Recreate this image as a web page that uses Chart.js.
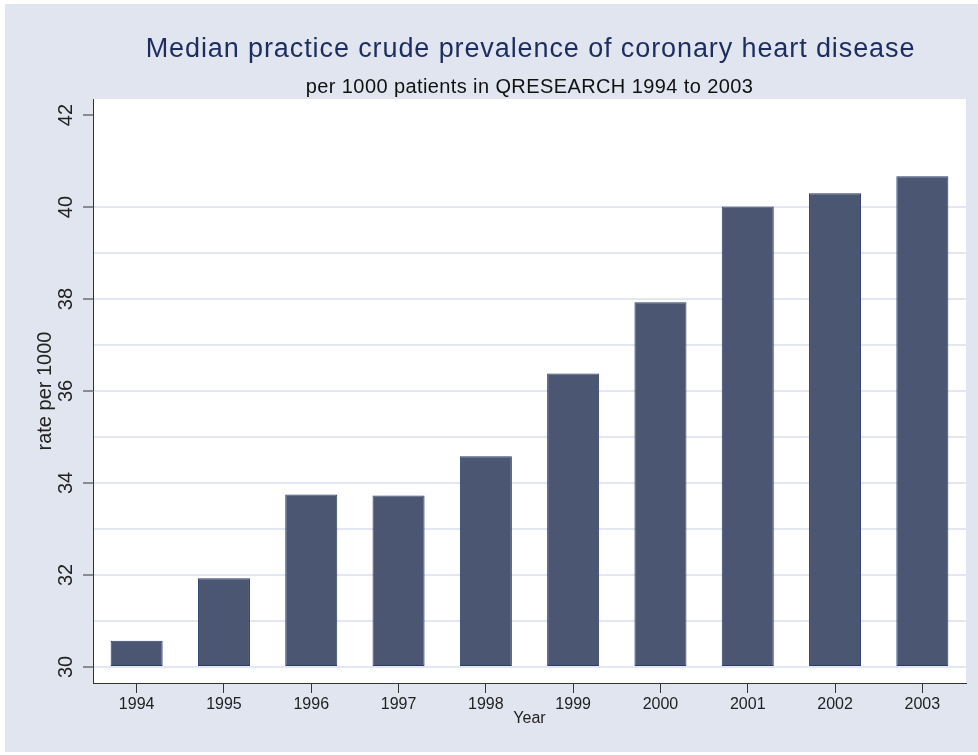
<!DOCTYPE html>
<html>
<head>
<meta charset="utf-8">
<script src="https://cdn.jsdelivr.net/npm/chart.js@4"></script>
<style>
  html, body { margin: 0; padding: 0; background: #fff; }
</style>
</head>
<body>
<canvas id="chart" width="978" height="755"></canvas>
<script>
const years = ["1994", "1995", "1996", "1997", "1998", "1999", "2000", "2001", "2002", "2003"];
const rates = [30.57, 31.93, 33.75, 33.73, 34.58, 36.38, 37.93, 40.01, 40.30, 40.67];
const yGridValues = [30, 31, 32, 33, 34, 35, 36, 37, 38, 39, 40, 41, 42];
const yLabelValues = [30, 32, 34, 36, 38, 40, 42];
const titleText = "Median practice crude prevalence of coronary heart disease";
const subtitleText = "per 1000 patients in QRESEARCH 1994 to 2003";
const yTitle = "rate per 1000";
const xTitle = "Year";

const BG = "#e0e5ef";
const GRID = "#e2e7f1";
const AXIS = "#333";
const BAR = "#4b5673";
const BAR_EDGE = "#2a3b6c";
const FONT = "'Liberation Sans', Arial, sans-serif";
const NONE = "rgba(0,0,0,0)";

// grey page, white plot region
const backdrop = {
  id: "backdrop",
  beforeDraw(chart) {
    const { ctx, chartArea: a, width, height } = chart;
    ctx.save();
    ctx.fillStyle = "#fff";
    ctx.fillRect(0, 0, width, height);
    ctx.fillStyle = BG;
    ctx.fillRect(5, 4, width - 5, height - 7);
    ctx.fillStyle = "#fff";
    ctx.fillRect(a.left, a.top, a.right - a.left, a.bottom - a.top);
    ctx.restore();
  }
};

// title + subtitle centred over the plot region
const headings = {
  id: "headings",
  afterDraw(chart) {
    const { ctx, chartArea: a } = chart;
    const cx = (a.left + a.right) / 2;
    ctx.save();
    ctx.textAlign = "center";
    ctx.textBaseline = "middle";
    ctx.fillStyle = "#1c2d5e";
    ctx.font = "27px " + FONT;
    ctx.letterSpacing = "0.9px";
    ctx.fillText(titleText, cx + 1, 50);
    ctx.fillStyle = "#111";
    ctx.font = "20px " + FONT;
    ctx.letterSpacing = "0.4px";
    ctx.fillText(subtitleText, cx, 87);
    ctx.restore();
  }
};

new Chart(document.getElementById("chart"), {
  type: "bar",
  data: {
    labels: years,
    datasets: [{
      data: rates,
      base: 30,
      backgroundColor: BAR,
      borderColor: BAR_EDGE,
      borderWidth: 1,
      borderSkipped: false,
      barPercentage: 0.596,
      categoryPercentage: 1
    }]
  },
  options: {
    responsive: false,
    animation: false,
    devicePixelRatio: 1,
    layout: { padding: { top: 99, left: 5, right: 12, bottom: 0 } },
    plugins: {
      legend: { display: false },
      tooltip: { enabled: false },
      title: { display: false }
    },
    scales: {
      x: {
        offset: true,
        afterFit: s => { s.height = 72; },
        grid: {
          offset: false,
          drawOnChartArea: false,
          tickLength: 10,
          tickColor: AXIS,
          tickWidth: 1
        },
        border: { color: AXIS, width: 1 },
        ticks: {
          color: "#222",
          font: { family: FONT, size: 16 },
          padding: 2,
          maxRotation: 0,
          autoSkip: false
        },
        title: {
          display: true,
          text: xTitle,
          color: "#222",
          font: { family: FONT, size: 16, lineHeight: 1 },
          padding: { top: 0, bottom: 28 }
        }
      },
      y: {
        min: 29.65,
        max: 42.35,
        afterFit: s => { s.width = 88; },
        afterBuildTicks: s => { s.ticks = yGridValues.map(v => ({ value: v })); },
        grid: {
          color: c => (c.tick && c.tick.value <= 40 ? GRID : NONE),
          lineWidth: 2,
          tickLength: 10,
          tickColor: c => (c.tick && yLabelValues.includes(c.tick.value) ? AXIS : NONE),
          tickWidth: 1
        },
        border: { color: AXIS, width: 1 },
        ticks: {
          color: "#222",
          font: { family: FONT, size: 20 },
          minRotation: 90,
          maxRotation: 90,
          crossAlign: "center",
          padding: 5,
          callback: v => (yLabelValues.includes(v) ? String(v) : "")
        },
        title: {
          display: true,
          text: yTitle,
          color: "#222",
          font: { family: FONT, size: 20, lineHeight: 1 },
          padding: { top: 30, bottom: 0 }
        }
      }
    }
  },
  plugins: [backdrop, headings]
});
</script>
</body>
</html>
